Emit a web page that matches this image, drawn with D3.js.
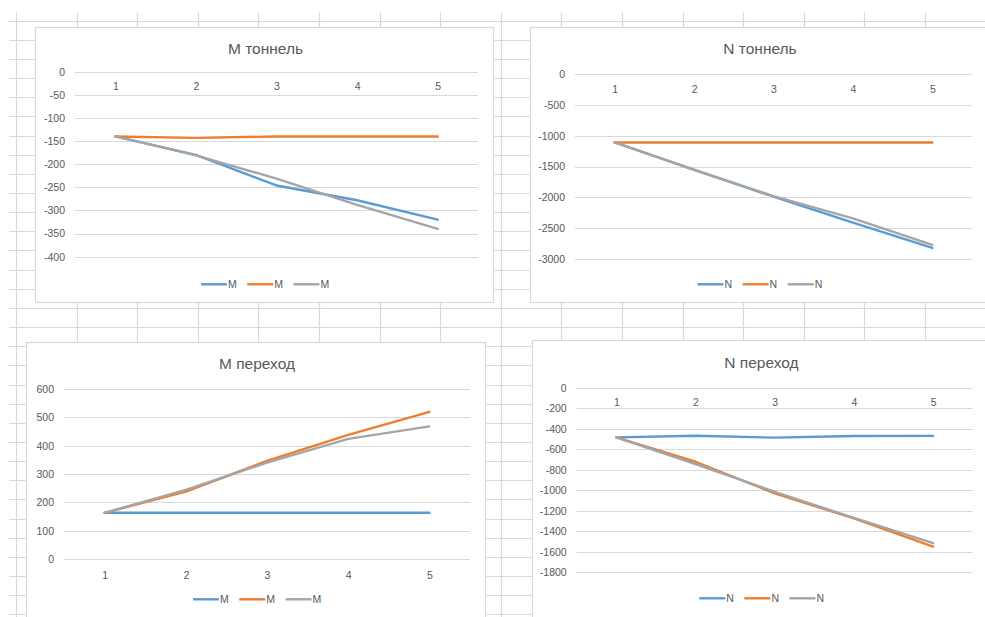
<!DOCTYPE html>
<html>
<head>
<meta charset="utf-8">
<script src="https://cdn.jsdelivr.net/npm/d3@7"></script>
<style>
  html, body { margin: 0; padding: 0; background: #fff; }
  svg { display: block; }
  text { font-family: "Liberation Sans", Arial, sans-serif; fill: #595959; }
</style>
</head>
<body>
<svg id="sheet" width="985" height="617"></svg>
<script>
// Shared category axis and series names
const categories = ["1", "2", "3", "4", "5"];
const seriesColors = ["#5b9bd5", "#ed7d31", "#a5a5a5"];
const mNames = ["M", "M", "M"];
const nNames = ["N", "N", "N"];

// M тоннель
const mTunnelTicks = [0, -50, -100, -150, -200, -250, -300, -350, -400];
const mTunnelA = [-140, -180, -246, -278, -320];
const mTunnelB = [-140, -143, -140, -140, -140];
const mTunnelC = [-140, -181, -231, -288, -340];

// N тоннель
const nTunnelTicks = [0, -500, -1000, -1500, -2000, -2500, -3000];
const nTunnelA = [-1110, -1555, -1990, -2410, -2820];
const nTunnelB = [-1110, -1110, -1110, -1110, -1110];
const nTunnelC = [-1110, -1550, -1980, -2340, -2770];

// M переход
const mTransTicks = [600, 500, 400, 300, 200, 100, 0];
const mTransA = [163, 163, 163, 163, 163];
const mTransB = [163, 238, 346, 438, 519];
const mTransC = [163, 244, 340, 424, 468];

// N переход
const nTransTicks = [0, -200, -400, -600, -800, -1000, -1200, -1400, -1600, -1800];
const nTransA = [-484, -468, -487, -471, -470];
const nTransB = [-484, -722, -1030, -1275, -1550];
const nTransC = [-484, -744, -1015, -1270, -1515];

const svg = d3.select("#sheet");

// Worksheet cell grid behind the charts
const colLines = d3.range(17).map(k => 16 + 60.6 * k);
const rowLines = d3.range(32).map(k => 20.7 + 19.15 * k);
const sheet = svg.append("g").attr("stroke", "#d9d9d9").attr("stroke-width", 1.2);
sheet.selectAll("line.col").data(colLines).join("line")
  .attr("x1", d => Math.round(d) + 0.5).attr("x2", d => Math.round(d) + 0.5)
  .attr("y1", 12.5).attr("y2", 617);
sheet.selectAll("line.row").data(rowLines).join("line")
  .attr("y1", d => Math.round(d) + 0.5).attr("y2", d => Math.round(d) + 0.5)
  .attr("x1", 9).attr("x2", 985);

const panels = [
  { title: "M тоннель", ticks: mTunnelTicks, series: [mTunnelA, mTunnelB, mTunnelC], names: mNames,
    box: [35.5, 27.5, 458, 275], plotX: [75, 478], plotY: [256.7, 71.7],
    titleY: 48.5, xLabelOffset: 15, legendY: 284.3, legendX: 201 },
  { title: "N тоннель", ticks: nTunnelTicks, series: [nTunnelA, nTunnelB, nTunnelC], names: nNames,
    box: [530.5, 27.5, 457, 275], plotX: [575, 972], plotY: [259, 74],
    titleY: 48.5, xLabelOffset: 15.3, legendY: 284.3, legendX: 697.5 },
  { title: "M переход", ticks: mTransTicks, series: [mTransA, mTransB, mTransC], names: mNames,
    box: [26.5, 342.5, 459, 290], plotX: [64, 470], plotY: [559, 389],
    titleY: 363.5, xLabelOffset: 16, legendY: 599.3, legendX: 193 },
  { title: "N переход", ticks: nTransTicks, series: [nTransA, nTransB, nTransC], names: nNames,
    box: [532.5, 340.5, 456, 290], plotX: [576.7, 972.7], plotY: [572.3, 387.7],
    titleY: 362.7, xLabelOffset: 14.6, legendY: 598.3, legendX: 699.3 }
];

panels.forEach(p => {
  const g = svg.append("g");
  const [bx, by, bw, bh] = p.box;

  g.append("rect")
    .attr("x", bx).attr("y", by).attr("width", bw).attr("height", bh)
    .attr("fill", "#fff").attr("stroke", "#d9d9d9").attr("stroke-width", 1.2);

  g.append("text")
    .attr("x", bx + bw / 2 + 1).attr("y", p.titleY)
    .attr("dy", "0.35em").attr("text-anchor", "middle")
    .style("font-size", "15.5px")
    .text(p.title);

  const x = d3.scalePoint().domain(categories).range(p.plotX).padding(0.5);
  const y = d3.scaleLinear().domain(d3.extent(p.ticks)).range(p.plotY);

  // horizontal gridlines
  g.append("g").selectAll("line").data(p.ticks).join("line")
    .attr("x1", p.plotX[0]).attr("x2", p.plotX[1])
    .attr("y1", d => Math.round(y(d)) + 0.5).attr("y2", d => Math.round(y(d)) + 0.5)
    .attr("stroke", "#d9d9d9").attr("stroke-width", 1.2);

  // value axis labels
  const yAxis = g.append("g")
    .attr("transform", `translate(${p.plotX[0]},0)`)
    .call(d3.axisLeft(y).tickValues(p.ticks).tickSize(0).tickPadding(10)
      .tickFormat(d => String(d)));
  yAxis.select(".domain").remove();
  yAxis.selectAll("text").style("font-size", "10.5px").attr("fill", "#595959")
    .style("font-family", "'Liberation Sans', Arial, sans-serif");

  // category labels sit just below the zero line
  const xAxis = g.append("g")
    .attr("transform", `translate(0,${y(0)})`)
    .call(d3.axisBottom(x).tickSize(0).tickPadding(0));
  xAxis.select(".domain").remove();
  xAxis.selectAll("text").attr("y", p.xLabelOffset).attr("dy", "0.35em")
    .style("font-size", "10.5px").attr("fill", "#595959")
    .style("font-family", "'Liberation Sans', Arial, sans-serif");

  // series lines
  const line = d3.line()
    .x((d, i) => x(categories[i]))
    .y(d => y(d));
  p.series.forEach((vals, si) => {
    g.append("path")
      .datum(vals)
      .attr("d", line)
      .attr("fill", "none")
      .attr("stroke", seriesColors[si])
      .attr("stroke-width", 2.4)
      .attr("stroke-linejoin", "round")
      .attr("stroke-linecap", "round");
  });

  // legend
  let lx = p.legendX;
  p.names.forEach((name, si) => {
    g.append("line")
      .attr("x1", lx).attr("x2", lx + 26)
      .attr("y1", p.legendY).attr("y2", p.legendY)
      .attr("stroke", seriesColors[si]).attr("stroke-width", 2.4);
    const t = g.append("text")
      .attr("x", lx + 27).attr("y", p.legendY).attr("dy", "0.35em")
      .style("font-size", "10.5px")
      .text(name);
    lx += 27 + t.node().getComputedTextLength() + 10.5;
  });
});
</script>
</body>
</html>
